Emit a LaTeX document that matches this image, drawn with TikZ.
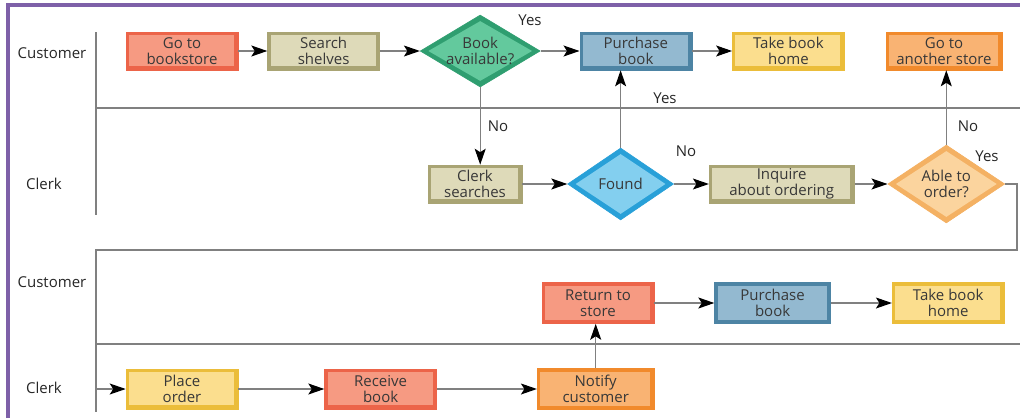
\documentclass[tikz,border=0pt]{standalone}
\usepackage{fontspec}
\setmainfont{Open Sans}
\usetikzlibrary{positioning,shapes.geometric,arrows.meta}

\definecolor{redin}{HTML}{F69A82}
\definecolor{redout}{HTML}{EC6449}
\definecolor{khakiin}{HTML}{DEDAB9}
\definecolor{khakiout}{HTML}{A9A474}
\definecolor{bluein}{HTML}{93B9D0}
\definecolor{blueout}{HTML}{4D84A4}
\definecolor{yellowin}{HTML}{FBDE8E}
\definecolor{yellowout}{HTML}{EBBD3A}
\definecolor{orangein}{HTML}{F9B373}
\definecolor{orangeout}{HTML}{F18A2C}
\definecolor{greenin}{HTML}{63C99D}
\definecolor{greenout}{HTML}{2F9E70}
\definecolor{cyanin}{HTML}{83CFEF}
\definecolor{cyanout}{HTML}{28A0D8}
\definecolor{peachin}{HTML}{FBD49E}
\definecolor{peachout}{HTML}{F4B163}
\definecolor{framepurple}{HTML}{7E60A8}

\tikzset{
  bevel/.style 2 args={rectangle, fill=#2, draw=#2, line width=0.6pt,
    minimum width=112pt, minimum height=38pt, align=center, text=black!78,
    path picture={\fill[#1] ([shift={(3pt,-3pt)}]path picture bounding box.north west)
      rectangle ([shift={(-4pt,4pt)}]path picture bounding box.south east);}},
  gem/.style 2 args={diamond, fill=#2, draw=#2, line width=0.6pt, aspect=1.65,
    inner sep=0pt, align=center, text=black!78,
    path picture={\fill[#1] ([xshift=8pt]path picture bounding box.west)
      -- ([yshift=-6pt]path picture bounding box.north)
      -- ([xshift=-8pt]path picture bounding box.east)
      -- ([yshift=6pt]path picture bounding box.south) -- cycle;}},
  redbox/.style={bevel={redin}{redout}},
  khakibox/.style={bevel={khakiin}{khakiout}},
  bluebox/.style={bevel={bluein}{blueout}},
  yellowbox/.style={bevel={yellowin}{yellowout}},
  orangebox/.style={bevel={orangein}{orangeout}},
  flow/.style={black!50, line width=1.1pt},
  lane/.style={draw=black!50, line width=1.1pt},
  lanelbl/.style={text=black!85},
  yn/.style={text=black!85},
}

\begin{document}
\begin{tikzpicture}[x=1pt,y=-1pt,node distance=30pt,
  >={Stealth[length=16pt,width=11pt,inset=3.5pt,color=black,fill=black]},
  font=\fontsize{15}{16.5}\selectfont]
\useasboundingbox (0,0) rectangle (1020,418);
% frame and lanes
\draw[framepurple, line width=4pt] (8,418) -- (8,5) -- (1020,5);
\draw[lane] (96,32) -- (96,215);
\draw[lane] (96,108) -- (1020,108);
\draw[lane] (96,344) -- (1020,344);
\node[lanelbl] (cust1) at (52,53) {Customer};
\node[lanelbl] (clerk1) at (44,184) {Clerk};
\node[lanelbl] (cust2) at (52,282) {Customer};
\node[lanelbl] (clerk2) at (44,388) {Clerk};

% customer, first visit
\node[redbox] (gostore) at (182,51) {Go to\\bookstore};
\node[khakibox, right=29pt of gostore] (search) {Search\\shelves};
\node[gem={greenin}{greenout}, minimum width=120pt, minimum height=72pt, right=40pt of search] (avail) {Book\\available?};
\node[bluebox, right=39pt of avail] (buy1) {Purchase\\book};
\node[yellowbox, right=40pt of buy1] (home1) {Take book\\home};
\node[orangebox, minimum width=116pt] (other) at (944,51) {Go to\\another store};

% clerk
\node[khakibox, minimum width=94pt] (clerksearch) at (475,184) {Clerk\\searches};
\node[gem={cyanin}{cyanout}, minimum width=106pt, minimum height=72pt, right=45pt of clerksearch] (found) {Found};
\node[khakibox, minimum width=145pt, right=35pt of found] (inquire) {Inquire\\about ordering};
\node[gem={peachin}{peachout}, minimum width=117pt, minimum height=78pt, right=33pt of inquire] (able) {Able to\\order?};

% second visit
\node[redbox, minimum height=41pt] (ret) at (598,303) {Return to\\store};
\node[bluebox, minimum width=116pt, minimum height=41pt, right=60pt of ret] (buy2) {Purchase\\book};
\node[yellowbox, minimum height=41pt, right=61pt of buy2] (home2) {Take book\\home};
\node[yellowbox, minimum height=40pt] (place) at (182,389) {Place\\order};
\node[redbox, minimum height=40pt, right=86pt of place] (receive) {Receive\\book};
\node[orangebox, minimum width=117pt, minimum height=41pt, right=100pt of receive] (notify) {Notify\\customer};

\coordinate (bend) at (1017,250);
\coordinate (corner) at (96,250);
\coordinate (laneend) at (96,412);
\coordinate (start) at (96,389);

\path[->, flow]
	(gostore) edge (search)
	(search) edge (avail)
	(avail) edge (buy1)
	(buy1) edge (home1)
	(clerksearch) edge (found)
	(found) edge (inquire)
	(inquire) edge (able)
	(ret) edge (buy2)
	(buy2) edge (home2)
	(start) edge (place)
	(place) edge (receive)
	(receive) edge (notify);
\draw[->, flow] (avail.south) -- (avail.south |- clerksearch.north);
\draw[->, flow] (found.north) -- (found.north |- buy1.south);
\draw[->, flow] (able.north) -- (able.north |- other.south);
\draw[->, flow] (notify.north) -- (notify.north |- ret.south);
\draw[flow] (able.east) -| (bend) -- (corner) -- (laneend);

% answers
\node[yn] (yes1) at (530,20) {Yes};
\node[yn] (yes2) at (665,98) {Yes};
\node[yn] (no1) at (498,126) {No};
\node[yn] (no2) at (686,151) {No};
\node[yn] (no3) at (968,126) {No};
\node[yn] (yes3) at (987,156) {Yes};
\end{tikzpicture}
\end{document}
